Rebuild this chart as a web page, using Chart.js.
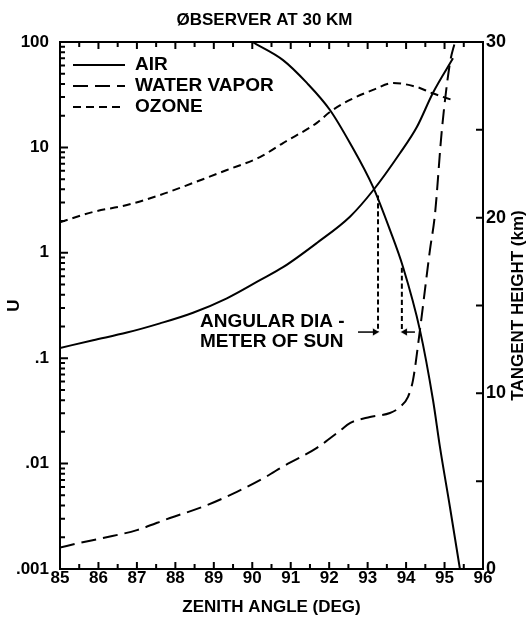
<!DOCTYPE html>
<html>
<head>
  <meta charset="UTF-8">
  <title>Observer at 30 km</title>
  <script src="https://cdn.jsdelivr.net/npm/chart.js"></script>
  <style>
    body { margin: 0; background: #fff; }
  </style>
</head>
<body>
  <canvas id="myChart" width="529" height="620"></canvas>

  <script>
    // values (zenith angle in degrees)
    const airAngle = [85, 85.86, 86.74, 87.6, 88.46, 89.34, 90.2, 90.8, 91.68, 92.54, 93.14, 93.84, 94.28, 94.7, 95.22];
    const airU = [0.125, 0.148, 0.175, 0.214, 0.27, 0.37, 0.55, 0.73, 1.24, 2.2, 3.9, 8.8, 15.6, 33, 70];

    const vaporAngle = [85, 85.52, 86.12, 87, 87.86, 88.72, 89.6, 90.38, 90.8, 91.68, 92.28, 92.54, 93.06, 93.58, 93.84, 94.05, 94.18, 94.36, 94.62, 94.75, 94.93, 95.14, 95.27];
    const vaporU = [0.0016, 0.00177, 0.00197, 0.00234, 0.00305, 0.0039, 0.0054, 0.0076, 0.0094, 0.0141, 0.0205, 0.0242, 0.0277, 0.0302, 0.0344, 0.043, 0.062, 0.185, 1.06, 2.3, 14.6, 63, 100];

    const ozoneAngle = [85, 85.86, 86.74, 87.6, 88.46, 89.34, 90.2, 90.8, 91.68, 92.02, 92.54, 93.14, 93.66, 94.28, 94.67, 95.2];
    const ozoneU = [1.95, 2.44, 2.84, 3.53, 4.6, 6.1, 8.1, 11, 17.1, 21.7, 28.2, 35.1, 40.8, 37.4, 32.8, 28.2];

    // tangent height (km, right axis)
    const tangentAngle = [90, 90.8, 91.42, 92.02, 92.54, 93.14, 93.58, 93.92, 94.36, 94.7, 94.88, 95.14, 95.4];
    const tangentKm = [30, 28.97, 27.67, 26.13, 24.25, 21.75, 19.3, 17.19, 13.6, 9.62, 6.95, 3.53, 0];

    // angular diameter of sun markers
    const sunAngle = [93.27, 93.89];
    const sunTopU = [3.5, 0.72];
    const arrowU = 0.177;
    const arrowTail = [92.75, 94.23];

    const xTicks = [85, 86, 87, 88, 89, 90, 91, 92, 93, 94, 95, 96];
    const uTicks = [0.001, 0.01, 0.1, 1, 10, 100];
    const uTickLabels = ['.001', '.01', '.1', '1', '10', '100'];
    const kmTicks = [0, 10, 20, 30];

    const pts = (xs, ys) => xs.map((x, i) => ({ x: x, y: ys[i] }));
    const FONT = 'Liberation Sans';

    // tick marks pointing into the plot on all four sides
    const inwardTicks = {
      id: 'inwardTicks',
      afterDraw(chart) {
        const { ctx, chartArea: a, scales: { x, y, y2 } } = chart;
        ctx.save();
        ctx.strokeStyle = '#000';
        ctx.lineWidth = 2;
        ctx.beginPath();
        for (let v = 85; v <= 96; v += 0.5) {
          const px = x.getPixelForValue(v);
          const len = v % 1 === 0 ? 7 : 5;
          ctx.moveTo(px, a.bottom); ctx.lineTo(px, a.bottom - len);
          ctx.moveTo(px, a.top); ctx.lineTo(px, a.top + len);
        }
        for (let e = -3; e < 2; e++) {
          for (let m = 1; m <= 9; m++) {
            const py = y.getPixelForValue(m * Math.pow(10, e));
            ctx.moveTo(a.left, py); ctx.lineTo(a.left + (m === 1 ? 8 : 5), py);
          }
        }
        for (let k = 0; k <= 30; k += 5) {
          const py = y2.getPixelForValue(k);
          ctx.moveTo(a.right, py); ctx.lineTo(a.right - 7, py);
        }
        ctx.stroke();
        ctx.restore();
      }
    };

    // legend inside the plot, right axis title, sun annotation
    const extras = {
      id: 'extras',
      afterDraw(chart) {
        const { ctx, chartArea: a, scales: { x, y } } = chart;
        ctx.save();
        ctx.fillStyle = '#000';
        ctx.strokeStyle = '#000';
        ctx.font = 'bold 19px ' + FONT;
        ctx.textBaseline = 'middle';
        ctx.textAlign = 'left';
        [0, 1, 2].forEach(i => {
          const ds = chart.data.datasets[i];
          const ly = a.top + 23 + i * 21;
          ctx.lineWidth = 2;
          ctx.setLineDash(ds.borderDash || []);
          ctx.beginPath();
          ctx.moveTo(a.left + 13, ly);
          ctx.lineTo(a.left + 65, ly);
          ctx.stroke();
          ctx.fillText(ds.label, a.left + 75, ly);
        });
        ctx.setLineDash([]);

        const tx = x.getPixelForValue(88.64);
        ctx.fillText('ANGULAR DIA -', tx, y.getPixelForValue(0.22));
        ctx.fillText('METER OF SUN', tx, y.getPixelForValue(0.143));

        ctx.font = 'bold 17px ' + FONT;
        ctx.textAlign = 'center';
        ctx.translate(518, (a.top + a.bottom) / 2);
        ctx.rotate(-Math.PI / 2);
        ctx.fillText('TANGENT HEIGHT (km)', 0, 0);
        ctx.restore();
      }
    };

    const tickFont = { family: FONT, size: 17, weight: 'bold', lineHeight: 1 };

    const ctx = document.getElementById('myChart').getContext('2d');
    new Chart(ctx, {
      type: 'line',
      data: {
        datasets: [
          { label: 'AIR', data: pts(airAngle, airU), yAxisID: 'y' },
          { label: 'WATER VAPOR', data: pts(vaporAngle, vaporU), yAxisID: 'y', borderDash: [15, 7] },
          { label: 'OZONE', data: pts(ozoneAngle, ozoneU), yAxisID: 'y', borderDash: [8, 5] },
          { label: 'TANGENT HEIGHT', data: pts(tangentAngle, tangentKm), yAxisID: 'y2' },
          { label: 'sun1', data: [{ x: sunAngle[0], y: sunTopU[0] }, { x: sunAngle[0], y: arrowU }], yAxisID: 'y', borderDash: [5, 3], tension: 0 },
          { label: 'sun2', data: [{ x: sunAngle[1], y: sunTopU[1] }, { x: sunAngle[1], y: arrowU }], yAxisID: 'y', borderDash: [5, 3], tension: 0 },
          { label: 'arrow1', data: [{ x: arrowTail[0], y: arrowU }, { x: sunAngle[0] - 0.08, y: arrowU }], yAxisID: 'y',
            borderWidth: 1.5, tension: 0, pointStyle: 'triangle', pointRadius: [0, 4], pointRotation: 90, pointBackgroundColor: '#000' },
          { label: 'arrow2', data: [{ x: arrowTail[1], y: arrowU }, { x: sunAngle[1] + 0.08, y: arrowU }], yAxisID: 'y',
            borderWidth: 1.5, tension: 0, pointStyle: 'triangle', pointRadius: [0, 4], pointRotation: -90, pointBackgroundColor: '#000' }
        ]
      },
      options: {
        responsive: false,
        animation: false,
        layout: { padding: 0 },
        elements: {
          point: { radius: 0, borderWidth: 0 },
          line: { borderColor: '#000', borderWidth: 2, cubicInterpolationMode: 'monotone', fill: false }
        },
        plugins: {
          legend: { display: false },
          tooltip: { enabled: false },
          title: {
            display: true,
            text: 'ØBSERVER AT 30 KM',
            color: '#000',
            font: { family: FONT, size: 17, weight: 'bold', lineHeight: 1 },
            padding: { top: 12, bottom: 9 }
          }
        },
        scales: {
          x: {
            type: 'linear', position: 'bottom', min: 85, max: 96,
            afterBuildTicks: s => { s.ticks = xTicks.map(v => ({ value: v })); },
            afterFit: s => { s.height = 51; },
            ticks: { color: '#000', font: tickFont, padding: 1, maxRotation: 0, autoSkip: false },
            grid: { display: false, drawTicks: false },
            border: { display: true, color: '#000', width: 2 },
            title: { display: true, text: 'ZENITH ANGLE (DEG)', color: '#000', font: tickFont, padding: { top: 0, bottom: 4 } }
          },
          xTop: {
            type: 'linear', position: 'top', min: 85, max: 96,
            afterFit: s => { s.height = 4; },
            ticks: { display: false },
            grid: { display: false, drawTicks: false },
            border: { display: true, color: '#000', width: 2 }
          },
          y: {
            type: 'logarithmic', position: 'left', min: 0.001, max: 100,
            afterBuildTicks: s => { s.ticks = uTicks.map(v => ({ value: v })); },
            afterFit: s => { s.width = 60; },
            ticks: { color: '#000', font: tickFont, padding: 11, autoSkip: false, callback: (v, i) => uTickLabels[i] },
            grid: { display: false, drawTicks: false },
            border: { display: true, color: '#000', width: 2 },
            title: { display: true, text: 'U', color: '#000', font: tickFont, padding: { top: 6, bottom: 0 } }
          },
          y2: {
            type: 'linear', position: 'right', min: 0, max: 30,
            afterBuildTicks: s => { s.ticks = kmTicks.map(v => ({ value: v })); },
            afterFit: s => { s.width = 46; },
            ticks: { color: '#000', font: { family: FONT, size: 18, weight: 'bold', lineHeight: 1 }, padding: 3, autoSkip: false },
            grid: { display: false, drawTicks: false },
            border: { display: true, color: '#000', width: 2 }
          }
        }
      },
      plugins: [inwardTicks, extras]
    });
  </script>
</body>
</html>
